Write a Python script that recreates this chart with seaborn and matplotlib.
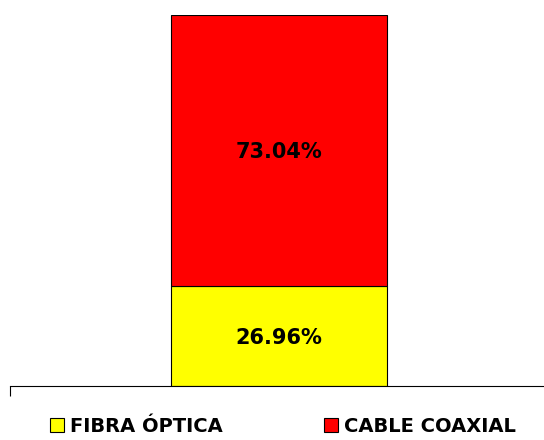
import matplotlib
matplotlib.use('Agg')
import matplotlib.pyplot as plt
import seaborn as sns
import pandas as pd

categories = ['']
fibra = [26.96]
coaxial = [73.04]
series_names = ['FIBRA ÓPTICA', 'CABLE COAXIAL']
series_colors = ['#FFFF00', '#FF0000']

sns.set_style('white')
plt.rcParams['font.family'] = ['DejaVu Sans']
plt.rcParams['text.color'] = 'black'

fig = plt.figure(figsize=(5.44, 4.40), dpi=100)
ax = fig.add_axes([10 / 544, 54 / 440, 534 / 544, 371 / 440])

df = pd.DataFrame({'cat': categories, 'fibra': fibra, 'coaxial': coaxial})

sns.barplot(data=df, x='cat', y='fibra', color=series_colors[0], width=0.405,
            edgecolor='black', linewidth=0.8, saturation=1, ax=ax,
            label=series_names[0])
sns.barplot(data=df, x='cat', y='coaxial', color=series_colors[1], width=0.405,
            edgecolor='black', linewidth=0.8, saturation=1, ax=ax,
            bottom=df['fibra'], label=series_names[1])

for i, (f, c) in enumerate(zip(fibra, coaxial)):
    ax.text(i, f / 2, f'{f:.2f}%', ha='center', va='center_baseline',
            fontsize=15, fontweight='bold', color='black')
    ax.text(i, f + c / 2, f'{c:.2f}%', ha='center', va='center_baseline',
            fontsize=15, fontweight='bold', color='black')

ax.set_xlim(-0.504, 0.496)
ax.set_ylim(0, 100)
ax.set_xlabel('')
ax.set_ylabel('')
ax.set_yticks([])
ax.set_xticks([-0.504])
ax.set_xticklabels([''])
ax.tick_params(axis='x', direction='out', length=7, width=0.8, color='black', bottom=True)
for side in ['top', 'right', 'left']:
    ax.spines[side].set_visible(False)
ax.spines['bottom'].set_color('black')
ax.spines['bottom'].set_linewidth(0.8)

handles, labels = ax.get_legend_handles_labels()
if ax.legend_:
    ax.legend_.remove()
fig.legend(handles, labels, loc='lower center', bbox_to_anchor=(0.52, -0.03),
           ncol=2, frameon=False, handlelength=0.75, handleheight=0.75,
           handletextpad=0.3, columnspacing=5.2,
           prop={'weight': 'bold', 'size': 14})

fig.savefig('out.png', dpi=100)
